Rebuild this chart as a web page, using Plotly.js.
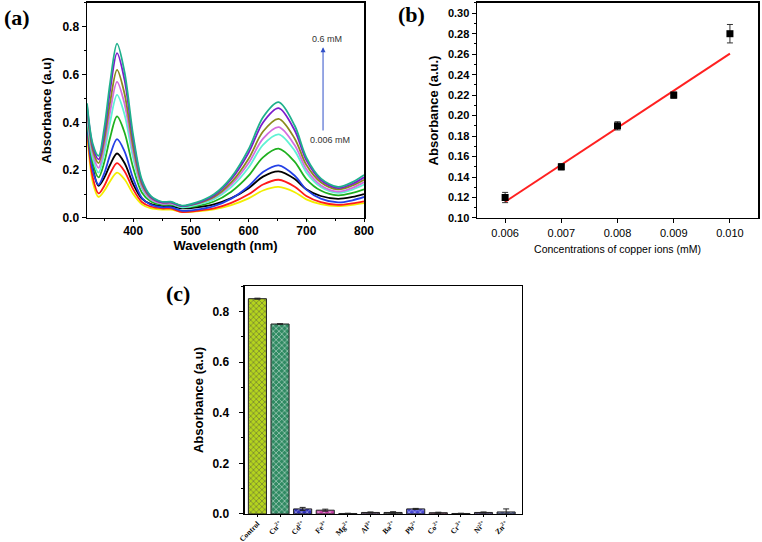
<!DOCTYPE html>
<html>
<head>
<meta charset="utf-8">
<script src="https://cdn.plot.ly/plotly-3.0.1.min.js"></script>
<style>
  body { margin: 0; background: #fff; }
  #chart { width: 762px; height: 542px; }
</style>
</head>
<body>
<div id="chart"></div>
<script>
// (a) UV-vis spectra
const wavelengths = [320, 330, 340, 350, 360, 372, 385, 400, 415, 430, 450, 465, 485, 510, 540, 570, 600, 625, 652, 680, 700, 725, 755, 780, 800];
const specYellow = [0.36, 0.15, 0.088, 0.114, 0.154, 0.19, 0.162, 0.100, 0.057, 0.041, 0.035, 0.035, 0.025, 0.028, 0.036, 0.054, 0.082, 0.115, 0.13, 0.108, 0.078, 0.058, 0.05, 0.055, 0.062];
const specRed = [0.38, 0.17, 0.103, 0.135, 0.186, 0.23, 0.196, 0.120, 0.067, 0.048, 0.04, 0.04, 0.025, 0.03, 0.040, 0.063, 0.099, 0.14, 0.16, 0.131, 0.092, 0.066, 0.055, 0.061, 0.07];
const specBlack = [0.44, 0.21, 0.135, 0.169, 0.223, 0.27, 0.230, 0.142, 0.081, 0.059, 0.05, 0.05, 0.04, 0.045, 0.057, 0.083, 0.125, 0.173, 0.195, 0.163, 0.120, 0.092, 0.08, 0.088, 0.10];
const specBlue = [0.40, 0.20, 0.14, 0.188, 0.264, 0.33, 0.279, 0.165, 0.085, 0.056, 0.045, 0.045, 0.03, 0.035, 0.050, 0.081, 0.133, 0.192, 0.22, 0.177, 0.119, 0.081, 0.065, 0.074, 0.088];
const specGreen = [0.42, 0.23, 0.17, 0.234, 0.336, 0.425, 0.358, 0.210, 0.107, 0.070, 0.055, 0.055, 0.045, 0.05, 0.069, 0.110, 0.177, 0.254, 0.29, 0.235, 0.163, 0.115, 0.095, 0.105, 0.12];
const specCyan = [0.43, 0.25, 0.19, 0.271, 0.401, 0.515, 0.433, 0.251, 0.124, 0.078, 0.06, 0.06, 0.045, 0.055, 0.079, 0.129, 0.211, 0.306, 0.35, 0.281, 0.191, 0.130, 0.105, 0.119, 0.14];
const specOrchid = [0.45, 0.27, 0.21, 0.30, 0.444, 0.57, 0.478, 0.274, 0.131, 0.080, 0.06, 0.06, 0.05, 0.06, 0.086, 0.140, 0.230, 0.332, 0.38, 0.304, 0.205, 0.137, 0.11, 0.126, 0.15];
const specOlive = [0.46, 0.285, 0.23, 0.328, 0.484, 0.62, 0.520, 0.298, 0.143, 0.087, 0.065, 0.065, 0.05, 0.06, 0.088, 0.149, 0.248, 0.362, 0.415, 0.332, 0.223, 0.150, 0.12, 0.136, 0.16];
const specPurple = [0.47, 0.30, 0.245, 0.356, 0.534, 0.69, 0.578, 0.328, 0.153, 0.090, 0.065, 0.065, 0.05, 0.062, 0.094, 0.162, 0.273, 0.400, 0.46, 0.366, 0.242, 0.159, 0.125, 0.143, 0.17];
const specTeal = [0.48, 0.31, 0.26, 0.378, 0.566, 0.73, 0.611, 0.346, 0.161, 0.094, 0.068, 0.068, 0.052, 0.065, 0.099, 0.170, 0.288, 0.422, 0.485, 0.386, 0.254, 0.166, 0.13, 0.150, 0.18];
const spectra = [specYellow, specRed, specBlack, specBlue, specGreen, specCyan, specOrchid, specOlive, specPurple, specTeal];
const spectraColors = ["#f2ee00", "#ff1a1a", "#000000", "#2440e6", "#1fb01f", "#5ff2d4", "#d26ee0", "#8a8a1c", "#7a1ccc", "#1fb08c"];

// (b) calibration
const concentrations = [0.006, 0.007, 0.008, 0.009, 0.010];
const calibAbs = [0.12, 0.15, 0.19, 0.22, 0.28];
const calibErr = [0.005, 0.003, 0.004, 0.003, 0.009];
const fitX = [0.006, 0.010];
const fitY = [0.1158, 0.2605];

// (c) selectivity
const ions = ["Control", "Cu<sup>2+</sup>", "Cd<sup>2+</sup>", "Fe<sup>3+</sup>", "Mg<sup>2+</sup>", "Al<sup>3+</sup>", "Ba<sup>2+</sup>", "Pb<sup>2+</sup>", "Co<sup>2+</sup>", "Cr<sup>3+</sup>", "Ni<sup>2+</sup>", "Zn<sup>2+</sup>"];
const ionAbs = [0.85, 0.75, 0.02, 0.015, 0.002, 0.006, 0.006, 0.02, 0.005, 0.002, 0.006, 0.008];
const ionErr = [0.002, 0.001, 0.006, 0.004, 0.001, 0.002, 0.003, 0.002, 0.002, 0.001, 0.002, 0.012];
const ionColors = ["#b4d41e", "#2f8a62", "#3030b8", "#c43ca4", "#505050", "#7a5a8a", "#606060", "#4848d4", "#8a4a6a", "#404040", "#6a5aa8", "#5a6aa8"];

const FONT = "Liberation Sans, Arial, sans-serif";
const SERIF = "Liberation Serif, Times New Roman, serif";

let traces = [];
spectra.forEach((ys, i) => {
    traces.push({
        x: wavelengths,
        y: ys,
        type: "scatter",
        mode: "lines",
        line: { color: spectraColors[i], width: 1.8, shape: "spline", smoothing: 0.9 },
        xaxis: "x",
        yaxis: "y",
        hoverinfo: "none",
    });
});

traces.push({
    x: fitX,
    y: fitY,
    type: "scatter",
    mode: "lines",
    line: { color: "#ff2020", width: 2 },
    xaxis: "x2",
    yaxis: "y2",
});
traces.push({
    x: concentrations,
    y: calibAbs,
    type: "scatter",
    mode: "markers",
    marker: { symbol: "square", color: "#000", size: 7 },
    error_y: { type: "data", array: calibErr, color: "#333", thickness: 1, width: 3 },
    xaxis: "x2",
    yaxis: "y2",
});

traces.push({
    x: ions,
    y: ionAbs,
    type: "bar",
    width: 0.8,
    marker: {
        color: ionColors,
        line: { color: "#222", width: 1 },
        pattern: { shape: "x", fillmode: "overlay", fgcolor: "#102008", fgopacity: 0.55, size: 4, solidity: 0.35 },
    },
    error_y: { type: "data", array: ionErr, color: "#222", thickness: 1, width: 3 },
    xaxis: "x3",
    yaxis: "y3",
});

const axisBase = {
    showline: true,
    linecolor: "#000",
    linewidth: 1.5,
    mirror: true,
    ticks: "outside",
    ticklen: 4,
    tickcolor: "#000",
    showgrid: false,
    zeroline: false,
    fixedrange: true,
};

const layout = {
    width: 762,
    height: 542,
    margin: { l: 0, r: 0, t: 0, b: 0 },
    paper_bgcolor: "#fff",
    plot_bgcolor: "#fff",
    showlegend: false,
    font: { family: FONT, color: "#000" },
    xaxis: {
        ...axisBase,
        domain: [0.1142, 0.4777],
        anchor: "y",
        range: [320, 800],
        tickvals: [400, 500, 600, 700, 800],
        ticklen: 3,
        ticklabelstandoff: -2,
        minor: { dtick: 50, ticks: "outside", ticklen: 2, tickcolor: "#000" },
        tickfont: { size: 12, family: FONT, weight: "bold" },
        title: { text: "<b>Wavelength (nm)</b>", font: { size: 13 }, standoff: 0 },
    },
    yaxis: {
        ...axisBase,
        domain: [0.5978, 0.9945],
        anchor: "x",
        range: [0, 0.9],
        dtick: 0.2,
        tickformat: ".1f",
        minor: { dtick: 0.1, ticks: "outside", ticklen: 2, tickcolor: "#000" },
        tickfont: { size: 12, family: FONT, weight: "bold" },
        title: { text: "<b>Absorbance (a.u)</b>", font: { size: 13 }, standoff: 8 },
    },
    xaxis2: {
        ...axisBase,
        domain: [0.626, 0.9948],
        anchor: "y2",
        range: [0.0055, 0.0105],
        tickvals: concentrations,
        tickformat: ".3f",
        tickfont: { size: 11, family: FONT },
        title: { text: "Concentrations of copper ions (mM)", font: { size: 10.5 }, standoff: 8 },
    },
    yaxis2: {
        ...axisBase,
        domain: [0.5978, 0.9945],
        anchor: "x2",
        range: [0.10, 0.31],
        dtick: 0.02,
        tickformat: ".2f",
        minor: { dtick: 0.01, ticks: "outside", ticklen: 2, tickcolor: "#000" },
        tickfont: { size: 11, family: FONT, weight: "bold" },
        title: { text: "<b>Absorbance (a.u.)</b>", font: { size: 13 }, standoff: 6 },
    },
    xaxis3: {
        ...axisBase,
        domain: [0.3215, 0.685],
        anchor: "y3",
        range: [-0.55, 11.7],
        tickangle: -45,
        ticklen: 2,
        ticklabelstandoff: -1,
        tickfont: { size: 7.5, family: SERIF, weight: "bold" },
    },
    yaxis3: {
        ...axisBase,
        domain: [0.0517, 0.4723],
        anchor: "x3",
        range: [0, 0.9],
        dtick: 0.2,
        tickformat: ".1f",
        ticklabelstandoff: 8,
        minor: { dtick: 0.1, ticks: "outside", ticklen: 2, tickcolor: "#000" },
        tickfont: { size: 12, family: FONT, weight: "bold" },
        title: { text: "<b>Absorbance (a.u)</b>", font: { size: 13 }, standoff: 6 },
    },
    annotations: [
        // concentration arrow in (a)
        {
            xref: "x", yref: "y", x: 729, y: 0.715, ax: 729, ay: 0.36,
            axref: "x", ayref: "y",
            showarrow: true, arrowhead: 2, arrowsize: 1, arrowwidth: 1, arrowcolor: "#3050c8", text: "",
        },
        { xref: "x", yref: "y", x: 736, y: 0.75, text: "0.6 mM", showarrow: false, font: { size: 9, color: "#333" } },
        { xref: "x", yref: "y", x: 741, y: 0.325, text: "0.006 mM", showarrow: false, font: { size: 9, color: "#333" } },
        // panel letters
        { xref: "paper", yref: "paper", x: 2 / 762, y: 1 - 18 / 542, xanchor: "left", yanchor: "middle", text: "<b>(a)</b>", showarrow: false, font: { family: SERIF, size: 22 } },
        { xref: "paper", yref: "paper", x: 396 / 762, y: 1 - 15 / 542, xanchor: "left", yanchor: "middle", text: "<b>(b)</b>", showarrow: false, font: { family: SERIF, size: 22 } },
        { xref: "paper", yref: "paper", x: 164 / 762, y: 1 - 293 / 542, xanchor: "left", yanchor: "middle", text: "<b>(c)</b>", showarrow: false, font: { family: SERIF, size: 22 } },
    ],
};

Plotly.newPlot("chart", traces, layout, { displayModeBar: false, staticPlot: true });
</script>
</body>
</html>
